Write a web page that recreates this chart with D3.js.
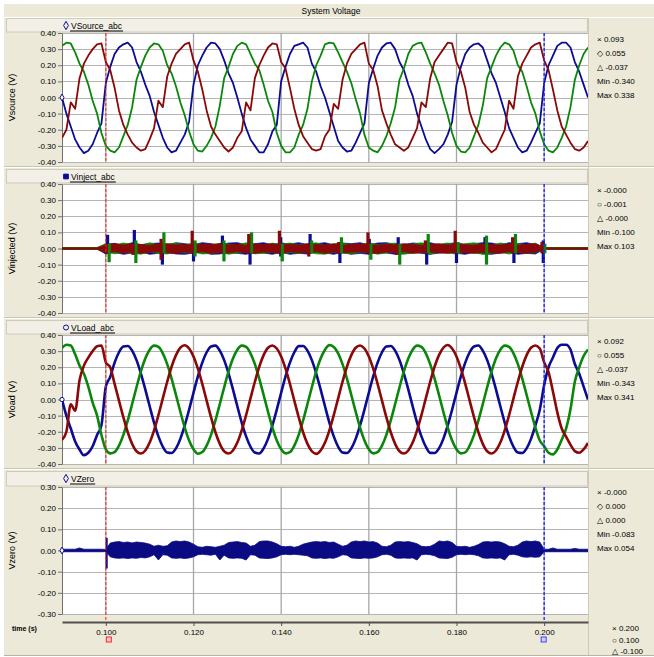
<!DOCTYPE html>
<html>
<head>
<meta charset="utf-8">
<script src="https://cdn.jsdelivr.net/npm/d3@7"></script>
<style>
body { margin: 0; background: #fff; }
text { font-family: "Liberation Sans", Arial, "DejaVu Sans", sans-serif; fill: #000; }
</style>
</head>
<body>
<div id="chart"></div>
<script>
// sampled every 1 ms from 0.090 s to 0.210 s (one row = one 20 ms cycle)
var srcBlue = [
  0.00, -0.10, -0.18, -0.26, -0.31, -0.345, -0.33, -0.29, -0.22, -0.16, 0.09, 0.19, 0.27, 0.31, 0.33, 0.34, 0.31, 0.22, 0.16, 0.08,
  0.01, -0.09, -0.17, -0.25, -0.31, -0.34, -0.33, -0.28, -0.23, -0.15, 0.08, 0.20, 0.26, 0.31, 0.34, 0.335, 0.30, 0.23, 0.15, 0.09,
  0.00, -0.10, -0.19, -0.26, -0.30, -0.34, -0.34, -0.29, -0.21, -0.17, 0.10, 0.19, 0.27, 0.32, 0.33, 0.34, 0.31, 0.21, 0.16, 0.07,
  0.00, -0.09, -0.18, -0.27, -0.31, -0.335, -0.33, -0.28, -0.22, -0.16, 0.09, 0.18, 0.26, 0.31, 0.335, 0.34, 0.30, 0.22, 0.17, 0.08,
  0.01, -0.10, -0.18, -0.26, -0.32, -0.345, -0.32, -0.29, -0.23, -0.15, 0.08, 0.19, 0.27, 0.31, 0.33, 0.335, 0.31, 0.23, 0.15, 0.09,
  0.00, -0.09, -0.19, -0.25, -0.31, -0.34, -0.33, -0.28, -0.22, -0.16, 0.09, 0.20, 0.26, 0.32, 0.34, 0.34, 0.31, 0.22, 0.16, 0.08,
  0.00];
var srcRed = [
  -0.25, -0.20, -0.03, -0.07, 0.12, 0.21, 0.26, 0.30, 0.33, 0.335, 0.22, 0.17, 0.06, -0.08, -0.17, -0.23, -0.28, -0.31, -0.33, -0.32,
  -0.26, -0.19, -0.02, -0.06, 0.13, 0.21, 0.27, 0.30, 0.33, 0.34, 0.23, 0.16, 0.05, -0.08, -0.18, -0.23, -0.27, -0.31, -0.335, -0.31,
  -0.25, -0.21, -0.03, -0.08, 0.12, 0.20, 0.26, 0.31, 0.335, 0.33, 0.22, 0.18, 0.06, -0.07, -0.17, -0.24, -0.28, -0.32, -0.33, -0.32,
  -0.24, -0.20, -0.04, -0.07, 0.11, 0.21, 0.27, 0.30, 0.33, 0.34, 0.21, 0.17, 0.07, -0.08, -0.16, -0.23, -0.29, -0.31, -0.33, -0.31,
  -0.25, -0.19, -0.03, -0.06, 0.12, 0.22, 0.26, 0.30, 0.34, 0.335, 0.22, 0.16, 0.06, -0.09, -0.17, -0.22, -0.28, -0.31, -0.34, -0.32,
  -0.26, -0.20, -0.02, -0.07, 0.13, 0.21, 0.26, 0.31, 0.33, 0.34, 0.23, 0.17, 0.05, -0.08, -0.18, -0.23, -0.28, -0.32, -0.33, -0.31,
  -0.27];
var srcGreen = [
  0.32, 0.34, 0.335, 0.28, 0.21, 0.16, 0.08, -0.02, -0.10, -0.22, -0.30, -0.33, -0.34, -0.31, -0.24, -0.17, -0.06, 0.11, 0.19, 0.26,
  0.31, 0.335, 0.33, 0.29, 0.20, 0.15, 0.07, -0.03, -0.11, -0.21, -0.29, -0.33, -0.335, -0.30, -0.25, -0.18, -0.05, 0.12, 0.19, 0.27,
  0.32, 0.34, 0.33, 0.27, 0.21, 0.17, 0.08, -0.02, -0.09, -0.22, -0.30, -0.34, -0.34, -0.31, -0.23, -0.17, -0.07, 0.10, 0.20, 0.26,
  0.33, 0.34, 0.335, 0.28, 0.22, 0.16, 0.09, -0.01, -0.10, -0.23, -0.31, -0.33, -0.34, -0.30, -0.24, -0.16, -0.06, 0.11, 0.18, 0.27,
  0.32, 0.335, 0.34, 0.28, 0.21, 0.15, 0.08, -0.02, -0.11, -0.22, -0.30, -0.335, -0.34, -0.31, -0.24, -0.17, -0.05, 0.12, 0.19, 0.26,
  0.31, 0.34, 0.33, 0.29, 0.20, 0.16, 0.07, -0.03, -0.10, -0.21, -0.29, -0.33, -0.34, -0.31, -0.25, -0.18, -0.06, 0.11, 0.20, 0.27,
  0.31];

// load voltage, same 1 ms grid (compensated between the cursors)
var loadBlue = [
  0.00, -0.10, -0.18, -0.26, -0.31, -0.345, -0.33, -0.29, -0.22, -0.16, 0.08, 0.14, 0.229, 0.293, 0.329, 0.332, 0.303, 0.244, 0.161, 0.063,
  -0.042, -0.143, -0.229, -0.293, -0.329, -0.332, -0.303, -0.244, -0.161, -0.063, 0.042, 0.143, 0.229, 0.293, 0.329, 0.334, 0.303, 0.244, 0.161, 0.063,
  -0.042, -0.143, -0.229, -0.293, -0.329, -0.335, -0.303, -0.244, -0.161, -0.063, 0.042, 0.143, 0.229, 0.293, 0.331, 0.332, 0.303, 0.244, 0.161, 0.063,
  -0.042, -0.143, -0.229, -0.293, -0.329, -0.332, -0.303, -0.244, -0.161, -0.063, 0.042, 0.143, 0.229, 0.293, 0.329, 0.332, 0.303, 0.244, 0.161, 0.063,
  -0.042, -0.143, -0.229, -0.293, -0.331, -0.332, -0.303, -0.244, -0.161, -0.063, 0.042, 0.143, 0.229, 0.293, 0.329, 0.335, 0.303, 0.244, 0.161, 0.063,
  -0.042, -0.143, -0.229, -0.293, -0.329, -0.332, -0.303, -0.244, -0.161, -0.063, 0.09, 0.20, 0.26, 0.32, 0.34, 0.34, 0.31, 0.22, 0.16, 0.08,
  0.00];
var loadRed = [
  -0.25, -0.20, -0.03, -0.07, 0.12, 0.21, 0.26, 0.30, 0.33, 0.335, 0.23, 0.20, 0.097, -0.007, -0.110, -0.203, -0.275, -0.321, -0.335, -0.316,
  -0.267, -0.191, -0.097, 0.007, 0.110, 0.203, 0.275, 0.321, 0.336, 0.316, 0.267, 0.191, 0.097, -0.007, -0.110, -0.203, -0.275, -0.321, -0.335, -0.316,
  -0.267, -0.191, -0.097, 0.007, 0.110, 0.203, 0.275, 0.321, 0.335, 0.316, 0.267, 0.191, 0.097, -0.007, -0.110, -0.203, -0.275, -0.321, -0.337, -0.316,
  -0.267, -0.191, -0.097, 0.007, 0.110, 0.203, 0.275, 0.321, 0.335, 0.316, 0.267, 0.191, 0.097, -0.007, -0.110, -0.203, -0.275, -0.321, -0.335, -0.316,
  -0.267, -0.191, -0.097, 0.007, 0.110, 0.203, 0.275, 0.321, 0.338, 0.316, 0.267, 0.191, 0.097, -0.007, -0.110, -0.203, -0.275, -0.321, -0.335, -0.316,
  -0.267, -0.191, -0.097, 0.007, 0.110, 0.203, 0.275, 0.321, 0.335, 0.316, 0.23, 0.17, 0.05, -0.08, -0.18, -0.23, -0.28, -0.32, -0.33, -0.31,
  -0.27];
var loadGreen = [
  0.32, 0.34, 0.335, 0.28, 0.21, 0.16, 0.08, -0.02, -0.10, -0.22, -0.309, -0.334, -0.326, -0.286, -0.219, -0.130, -0.028, 0.076, 0.174, 0.254,
  0.309, 0.334, 0.326, 0.286, 0.219, 0.130, 0.028, -0.076, -0.174, -0.254, -0.309, -0.336, -0.326, -0.286, -0.219, -0.130, -0.028, 0.076, 0.174, 0.254,
  0.309, 0.334, 0.326, 0.286, 0.219, 0.130, 0.028, -0.076, -0.174, -0.254, -0.309, -0.334, -0.326, -0.286, -0.219, -0.130, -0.028, 0.076, 0.174, 0.254,
  0.309, 0.337, 0.326, 0.286, 0.219, 0.130, 0.028, -0.076, -0.174, -0.254, -0.309, -0.334, -0.326, -0.286, -0.219, -0.130, -0.028, 0.076, 0.174, 0.254,
  0.309, 0.334, 0.326, 0.286, 0.219, 0.130, 0.028, -0.076, -0.174, -0.254, -0.309, -0.334, -0.328, -0.286, -0.219, -0.130, -0.028, 0.076, 0.174, 0.254,
  0.309, 0.334, 0.326, 0.286, 0.219, 0.130, 0.028, -0.076, -0.174, -0.254, -0.29, -0.33, -0.34, -0.31, -0.25, -0.18, -0.06, 0.11, 0.20, 0.27,
  0.31];

// injected voltage: noise band edges every 2 ms from 0.090 s to 0.210 s
var injBlueHi = [0.004, 0.004, 0.004, 0.004, 0.004,
  0.026, 0.032, 0.02, 0.036, 0.024, 0.03, 0.034, 0.02, 0.036, 0.03,
  0.024, 0.036, 0.03, 0.022, 0.034, 0.036, 0.024, 0.03, 0.036, 0.022,
  0.034, 0.028, 0.036, 0.024, 0.03, 0.036, 0.022, 0.034, 0.03, 0.036,
  0.022, 0.034, 0.036, 0.026, 0.024, 0.034, 0.03, 0.036, 0.022, 0.03,
  0.036, 0.024, 0.03, 0.036, 0.034, 0.022, 0.036, 0.03, 0.036, 0.024,
  0.004, 0.004, 0.004, 0.004, 0.004, 0.004];
var injBlueLo = [-0.004, -0.004, -0.004, -0.004, -0.004,
  -0.034, -0.024, -0.036, -0.028, -0.022, -0.036, -0.03, -0.024, -0.034, -0.036,
  -0.028, -0.022, -0.036, -0.034, -0.024, -0.03, -0.036, -0.022, -0.028, -0.036,
  -0.024, -0.036, -0.03, -0.034, -0.022, -0.028, -0.036, -0.024, -0.036, -0.03,
  -0.036, -0.022, -0.028, -0.036, -0.034, -0.024, -0.03, -0.036, -0.028, -0.022,
  -0.03, -0.036, -0.024, -0.034, -0.036, -0.028, -0.022, -0.036, -0.03, -0.034,
  -0.004, -0.004, -0.004, -0.004, -0.004, -0.004];
var injGreenHi = [0.006, 0.006, 0.006, 0.006, 0.006,
  0.03, 0.022, 0.034, 0.025, 0.02, 0.035, 0.024, 0.028, 0.033, 0.02,
  0.034, 0.025, 0.02, 0.032, 0.028, 0.022, 0.035, 0.024, 0.02, 0.033,
  0.025, 0.034, 0.022, 0.028, 0.035, 0.02, 0.03, 0.034, 0.022, 0.025,
  0.035, 0.024, 0.03, 0.033, 0.02, 0.028, 0.035, 0.022, 0.025, 0.034,
  0.022, 0.03, 0.035, 0.024, 0.02, 0.034, 0.025, 0.03, 0.022, 0.033,
  0.006, 0.006, 0.006, 0.006, 0.006, 0.006];
var injGreenLo = [-0.006, -0.006, -0.006, -0.006, -0.006,
  -0.02, -0.033, -0.025, -0.03, -0.035, -0.022, -0.03, -0.034, -0.024, -0.028,
  -0.022, -0.034, -0.03, -0.025, -0.035, -0.028, -0.022, -0.033, -0.03, -0.024,
  -0.034, -0.025, -0.03, -0.022, -0.033, -0.035, -0.024, -0.028, -0.034, -0.022,
  -0.025, -0.035, -0.028, -0.022, -0.034, -0.03, -0.024, -0.035, -0.022, -0.028,
  -0.034, -0.022, -0.028, -0.035, -0.03, -0.024, -0.034, -0.022, -0.03, -0.026,
  -0.006, -0.006, -0.006, -0.006, -0.006, -0.006];
var injRedHi = [0.004, 0.004, 0.004, 0.004, 0.004,
  0.02, 0.028, 0.022, 0.03, 0.025, 0.02, 0.027, 0.03, 0.022, 0.026,
  0.02, 0.028, 0.024, 0.03, 0.022, 0.026, 0.02, 0.028, 0.025, 0.03,
  0.022, 0.027, 0.02, 0.03, 0.025, 0.022, 0.028, 0.02, 0.026, 0.03,
  0.024, 0.02, 0.028, 0.022, 0.03, 0.025, 0.02, 0.026, 0.03, 0.022,
  0.028, 0.024, 0.02, 0.03, 0.025, 0.022, 0.028, 0.02, 0.026, 0.03,
  0.004, 0.004, 0.004, 0.004, 0.004, 0.004];
var injRedLo = [-0.004, -0.004, -0.004, -0.004, -0.004,
  -0.025, -0.02, -0.028, -0.022, -0.03, -0.024, -0.02, -0.027, -0.03, -0.022,
  -0.026, -0.02, -0.03, -0.024, -0.028, -0.02, -0.026, -0.03, -0.022, -0.025,
  -0.03, -0.02, -0.027, -0.024, -0.02, -0.03, -0.022, -0.028, -0.024, -0.02,
  -0.028, -0.03, -0.022, -0.026, -0.02, -0.03, -0.025, -0.022, -0.028, -0.03,
  -0.02, -0.026, -0.03, -0.022, -0.027, -0.03, -0.02, -0.025, -0.03, -0.024,
  -0.004, -0.004, -0.004, -0.004, -0.004, -0.004];

// injected voltage spikes at the switching instants (ms)
var injSpikeT = [100.4, 106.5, 112.9, 120.0, 126.6, 132.9, 139.9, 146.6, 153.4, 160.1, 166.7, 173.2, 180.0, 186.5, 193.1, 199.8];
var spikeBlueHi = [0.085, 0.115, 0.02, 0.03, 0.08, 0.03, 0.07, 0.09, 0.03, 0.06, 0.07, 0.03, 0.03, 0.07, 0.03, 0.05];
var spikeBlueLo = [-0.03, -0.03, -0.10, -0.08, -0.03, -0.10, -0.05, -0.03, -0.09, -0.03, -0.03, -0.10, -0.09, -0.03, -0.09, -0.09];
var spikeGreenHi = [0.03, 0.05, 0.10, 0.05, 0.05, 0.10, 0.03, 0.05, 0.07, 0.03, 0.03, 0.09, 0.04, 0.08, 0.09, 0.03];
var spikeGreenLo = [-0.085, -0.09, -0.03, -0.05, -0.08, -0.03, -0.08, -0.03, -0.03, -0.07, -0.10, -0.03, -0.03, -0.10, -0.03, -0.03];
var spikeRedHi = [0.03, 0.03, 0.06, 0.11, 0.03, 0.09, 0.11, 0.03, 0.04, 0.10, 0.03, 0.05, 0.11, 0.03, 0.07, 0.04];
var spikeRedLo = [-0.03, -0.04, -0.07, -0.03, -0.03, -0.03, -0.03, -0.05, -0.03, -0.03, -0.04, -0.03, -0.03, -0.03, -0.03, -0.03];

// zero sequence voltage: band edges every 1 ms from 0.090 s to 0.210 s
var vzHi = [0.006, 0.006, 0.006, 0.006, 0.012, 0.006, 0.006, 0.006, 0.006, 0.006,
  0.005,
  0.035, 0.04, 0.042, 0.038, 0.04, 0.036, 0.04, 0.038, 0.035, 0.03,
  0.02, 0.025, 0.02, 0.022,
  0.04, 0.045, 0.042, 0.045, 0.04, 0.03,
  0.018, 0.015, 0.02, 0.018, 0.015, 0.02, 0.025,
  0.038, 0.04, 0.042, 0.038, 0.035,
  0.02, 0.025,
  0.042, 0.045, 0.045, 0.04, 0.032,
  0.02, 0.018, 0.02, 0.015, 0.02, 0.03, 0.035,
  0.04, 0.042, 0.04, 0.042, 0.038, 0.04, 0.03,
  0.02, 0.025,
  0.04, 0.045, 0.042, 0.045, 0.04, 0.042, 0.035,
  0.02, 0.018, 0.025,
  0.04, 0.042, 0.04, 0.042, 0.038, 0.032,
  0.02, 0.018, 0.02, 0.03,
  0.045, 0.042, 0.045, 0.038,
  0.02, 0.018, 0.02, 0.015, 0.02, 0.028,
  0.04, 0.042, 0.04, 0.042, 0.04, 0.032,
  0.02, 0.018, 0.025,
  0.04, 0.045, 0.042, 0.045, 0.04,
  0.006,
  0.006, 0.012, 0.006, 0.006, 0.006, 0.006, 0.01, 0.006, 0.006, 0.006];
var vzLo = [-0.006, -0.006, -0.006, -0.006, -0.006, -0.006, -0.006, -0.006, -0.006, -0.006,
  -0.005,
  -0.03, -0.035, -0.037, -0.035, -0.038, -0.035, -0.037, -0.033, -0.035, -0.03,
  -0.02, -0.045, -0.02, -0.022,
  -0.035, -0.037, -0.035, -0.038, -0.035, -0.03,
  -0.02, -0.018, -0.02, -0.022, -0.018, -0.045, -0.022,
  -0.035, -0.037, -0.035, -0.037, -0.045,
  -0.02, -0.022,
  -0.035, -0.037, -0.038, -0.035, -0.03,
  -0.02, -0.018, -0.02, -0.018, -0.02, -0.022, -0.025,
  -0.035, -0.037, -0.035, -0.038, -0.035, -0.037, -0.03,
  -0.02, -0.022,
  -0.035, -0.037, -0.038, -0.035, -0.037, -0.035, -0.03,
  -0.02, -0.018, -0.022,
  -0.035, -0.037, -0.035, -0.037, -0.035, -0.045,
  -0.02, -0.018, -0.02, -0.025,
  -0.035, -0.037, -0.038, -0.032,
  -0.02, -0.018, -0.02, -0.018, -0.02, -0.025,
  -0.035, -0.037, -0.035, -0.037, -0.035, -0.045,
  -0.02, -0.018, -0.022,
  -0.03, -0.032, -0.03, -0.032, -0.03,
  -0.006,
  -0.006, -0.006, -0.006, -0.006, -0.006, -0.006, -0.006, -0.006, -0.006, -0.006];
var vzSpikeT = [100.2];
var vzSpikeHi = [0.06];
var vzSpikeLo = [-0.085];

var xTicks = [0.100, 0.120, 0.140, 0.160, 0.180, 0.200];
var yTicks4 = [0.40, 0.30, 0.20, 0.10, 0.00, -0.10, -0.20, -0.30, -0.40];
var yTicks3 = [0.30, 0.20, 0.10, 0.00, -0.10, -0.20, -0.30];
var cursorT = [0.100, 0.200];

var statsSource = ["\u00d7 0.093", "\u25c7 0.055", "\u25b3 -0.037", "Min -0.340", "Max 0.338"];
var statsInject = ["\u00d7 -0.000", "\u25cb -0.001", "\u25b3 -0.000", "Min -0.100", "Max 0.103"];
var statsLoad = ["\u00d7 0.092", "\u25cb 0.055", "\u25b3 -0.037", "Min -0.343", "Max 0.341"];
var statsZero = ["\u00d7 -0.000", "\u25c7 0.000", "\u25b3 0.000", "Min -0.083", "Max 0.054"];
var statsTime = ["\u00d7 0.200", "\u25cb 0.100", "\u25b3 -0.100"];

const W = 654, H = 657;
const BLUE = "#0b0b94", GREEN = "#0a870a", RED = "#8a0808", NAVY = "#0a0a82";
const BEIGE = "#ECE9D8";

const svg = d3.select("#chart").append("svg").attr("width", W).attr("height", H);
svg.append("rect").attr("width", W).attr("height", H).attr("fill", "#fff");
svg.append("rect").attr("x", 4).attr("y", 4).attr("width", W - 4).attr("height", H - 5).attr("fill", BEIGE);
svg.append("line").attr("x1", 4).attr("x2", W).attr("y1", 17.5).attr("y2", 17.5).attr("stroke", "#fff");
svg.append("text").attr("x", 331).attr("y", 14).attr("text-anchor", "middle").attr("font-size", 8.5).text("System Voltage");

const x = d3.scaleLinear().domain([0.090, 0.210]).range([62, 588]);
const sampleT = d3.range(srcBlue.length).map(i => 0.090 + i * 0.001);

const panels = [
  {legend: "VSource_abc", sym: d3.symbolDiamond, filled: false, label: "Vsource (V)", head: 18, top: 33, bottom: 162, domain: [-0.4, 0.4], ticks: yTicks4, stats: statsSource},
  {legend: "Vinject_abc", sym: d3.symbolSquare, filled: true, label: "Vinjected (V)", head: 169, top: 184, bottom: 313, domain: [-0.4, 0.4], ticks: yTicks4, stats: statsInject},
  {legend: "VLoad_abc", sym: d3.symbolCircle, filled: false, label: "Vload (V)", head: 320, top: 335, bottom: 464, domain: [-0.4, 0.4], ticks: yTicks4, stats: statsLoad},
  {legend: "VZero", sym: d3.symbolDiamond, filled: false, label: "Vzero (V)", head: 471, top: 487, bottom: 614, domain: [-0.3, 0.3], ticks: yTicks3, stats: statsZero}
];

panels.forEach((p, i) => {
  p.y = d3.scaleLinear().domain(p.domain).range([p.bottom, p.top]);
  const g = svg.append("g");

  if (i > 0) {
    g.append("line").attr("x1", 4).attr("x2", W).attr("y1", p.head - 2.5).attr("y2", p.head - 2.5).attr("stroke", "#c9c5b3");
    g.append("line").attr("x1", 4).attr("x2", W).attr("y1", p.head - 1.5).attr("y2", p.head - 1.5).attr("stroke", "#fff");
  }
  // header strip with legend
  g.append("rect").attr("x", 6.5).attr("y", p.head + 0.5).attr("width", 581).attr("height", p.top - p.head - 1.5)
    .attr("fill", "#F2F0E6").attr("stroke", "#cfcbb9");
  g.append("path").attr("d", d3.symbol().type(p.sym).size(p.filled ? 22 : 20))
    .attr("transform", `translate(66,${p.head + 7.5})`)
    .attr("fill", p.filled ? BLUE : "none").attr("stroke", BLUE).attr("stroke-width", 1);
  const lt = g.append("text").attr("x", 71).attr("y", p.head + 10.5).attr("font-size", 8.5).text(p.legend);
  const lw = lt.node().getComputedTextLength();
  g.append("line").attr("x1", 70).attr("x2", 72 + lw).attr("y1", p.head + 13).attr("y2", p.head + 13).attr("stroke", "#000");

  // plot background
  g.append("rect").attr("x", 62).attr("y", p.top).attr("width", 526).attr("height", p.bottom - p.top).attr("fill", "#fff");

  // grid
  g.append("g").selectAll("line").data(p.ticks).join("line")
    .attr("x1", 62).attr("x2", 588).attr("y1", d => Math.round(p.y(d)) + 0.5).attr("y2", d => Math.round(p.y(d)) + 0.5)
    .attr("stroke", "#b4b4b4");
  g.append("g").selectAll("line").data(xTicks).join("line")
    .attr("x1", d => x(d)).attr("x2", d => x(d)).attr("y1", p.top).attr("y2", p.bottom)
    .attr("stroke", "#a6a6a6").attr("stroke-width", 1.3);

  // y axis
  const ay = g.append("g").attr("transform", "translate(62,0)")
    .call(d3.axisLeft(p.y).tickValues(p.ticks).tickFormat(d => d.toFixed(2)).tickSize(4).tickSizeOuter(0).tickPadding(2));
  ay.select(".domain").attr("stroke", "#707070");
  ay.selectAll(".tick line").attr("stroke", "#707070");
  ay.selectAll(".tick text").attr("font-size", 8).attr("font-family", "Liberation Sans, Arial, sans-serif").attr("fill", "#000");

  g.append("text").attr("transform", `translate(15,${(p.top + p.bottom) / 2}) rotate(-90)`)
    .attr("text-anchor", "middle").attr("font-size", 9).text(p.label);

  // value column
  g.append("g").selectAll("text").data(p.stats).join("text")
    .attr("x", 597).attr("y", (d, j) => p.head + 23.5 + j * 14).attr("font-size", 8).text(d => d);

  svg.append("clipPath").attr("id", "clip" + i).append("rect")
    .attr("x", 62).attr("y", p.top).attr("width", 526).attr("height", p.bottom - p.top);
  p.plot = svg.append("g").attr("clip-path", `url(#clip${i})`);
});

// value column divider
svg.append("line").attr("x1", 588.5).attr("x2", 588.5).attr("y1", 18).attr("y2", H - 1).attr("stroke", "#cfcbb9");

function band(hi, lo) { return hi.map((h, i) => ({i: i, hi: h, lo: lo[i]})); }

// panel 1: source
const pS = panels[0];
const lineS = d3.line().x((d, i) => x(sampleT[i])).y(d => pS.y(d));
[[srcBlue, BLUE], [srcGreen, GREEN], [srcRed, RED]].forEach(([arr, c]) => {
  pS.plot.append("path").attr("d", lineS(arr)).attr("fill", "none").attr("stroke", c)
    .attr("stroke-width", 1.8).attr("stroke-linejoin", "round");
});

// panel 2: injected
const pI = panels[1];
const injT = d3.range(injRedHi.length).map(i => 0.090 + i * 0.002);
const areaI = d3.area().x(d => x(injT[d.i])).y0(d => pI.y(d.lo)).y1(d => pI.y(d.hi));
[[injBlueHi, injBlueLo, BLUE], [injGreenHi, injGreenLo, GREEN], [injRedHi, injRedLo, RED]].forEach(([hi, lo, c]) => {
  pI.plot.append("path").attr("d", areaI(band(hi, lo))).attr("fill", c).attr("stroke", c).attr("stroke-width", 0.8);
});
[[spikeBlueHi, spikeBlueLo, BLUE, 0], [spikeGreenHi, spikeGreenLo, GREEN, 0.35], [spikeRedHi, spikeRedLo, RED, -0.3]].forEach(([hi, lo, c, off]) => {
  pI.plot.append("g").selectAll("rect").data(injSpikeT).join("rect")
    .attr("x", (d) => x((d + off) / 1000) - 1.6).attr("width", 3.2)
    .attr("y", (d, i) => pI.y(hi[i])).attr("height", (d, i) => pI.y(lo[i]) - pI.y(hi[i]))
    .attr("fill", c);
});

// panel 3: load
const pL = panels[2];
const lineL = d3.line().curve(d3.curveMonotoneX).x((d, i) => x(sampleT[i])).y(d => pL.y(d));
[[loadBlue, BLUE], [loadGreen, GREEN], [loadRed, RED]].forEach(([arr, c]) => {
  pL.plot.append("path").attr("d", lineL(arr)).attr("fill", "none").attr("stroke", c).attr("stroke-width", 2.6);
});

// panel 4: zero sequence
const pZ = panels[3];
const vzT = d3.range(vzHi.length).map(i => 0.090 + i * 0.001);
const areaZ = d3.area().x(d => x(vzT[d.i])).y0(d => pZ.y(d.lo)).y1(d => pZ.y(d.hi));
pZ.plot.append("path").attr("d", areaZ(band(vzHi, vzLo))).attr("fill", NAVY).attr("stroke", NAVY).attr("stroke-width", 0.8);
pZ.plot.selectAll("rect.spk").data(vzSpikeT).join("rect").attr("class", "spk")
  .attr("x", d => x(d / 1000) - 1).attr("width", 2)
  .attr("y", (d, i) => pZ.y(vzSpikeHi[i])).attr("height", (d, i) => pZ.y(vzSpikeLo[i]) - pZ.y(vzSpikeHi[i]))
  .attr("fill", NAVY);

// start markers
[[pS, d3.symbolDiamond, srcBlue[0]], [pL, d3.symbolCircle, loadBlue[0]], [pZ, d3.symbolDiamond, 0]].forEach(([p, s, v]) => {
  svg.append("path").attr("d", d3.symbol().type(s).size(14)).attr("transform", `translate(62,${p.y(v)})`)
    .attr("fill", "#fff").attr("stroke", BLUE);
});

// cursors
panels.forEach(p => {
  svg.append("line").attr("x1", x(cursorT[0])).attr("x2", x(cursorT[0])).attr("y1", p.top).attr("y2", p.bottom + (p === pZ ? 6 : 0))
    .attr("stroke", "#ff2020").attr("stroke-dasharray", "3,2");
  svg.append("line").attr("x1", x(cursorT[1])).attr("x2", x(cursorT[1])).attr("y1", p.top).attr("y2", p.bottom + (p === pZ ? 6 : 0))
    .attr("stroke", "#2a2aff").attr("stroke-width", 1.4).attr("stroke-dasharray", "3,2");
});

// time axis
const ax = svg.append("g").attr("transform", "translate(0,622)")
  .call(d3.axisBottom(x).tickValues(xTicks).tickFormat(d => d.toFixed(3)).tickSize(4).tickSizeOuter(0).tickPadding(3));
ax.select(".domain").attr("stroke", "#505050").attr("stroke-width", 2);
ax.selectAll(".tick line").attr("stroke", "#505050");
ax.selectAll(".tick text").attr("font-size", 8).attr("font-family", "Liberation Sans, Arial, sans-serif").attr("fill", "#000");
svg.append("text").attr("x", 12).attr("y", 631).attr("font-size", 7).attr("font-weight", "bold").text("time (s)");

// cursor handles under the axis
svg.append("rect").attr("x", x(cursorT[0]) + 0.5).attr("y", 637).attr("width", 5).attr("height", 5)
  .attr("fill", "#ffd0d0").attr("stroke", "#ff2020");
svg.append("rect").attr("x", x(cursorT[1]) - 3).attr("y", 637).attr("width", 5).attr("height", 5)
  .attr("fill", "#d0d0ff").attr("stroke", "#4040ff");

svg.append("g").selectAll("text").data(statsTime).join("text")
  .attr("x", 612).attr("y", (d, j) => 631 + j * 11.5).attr("font-size", 8).text(d => d);
svg.append("line").attr("x1", 4).attr("x2", W).attr("y1", 655.5).attr("y2", 655.5).attr("stroke", "#b8b4a2");
</script>
</body>
</html>
